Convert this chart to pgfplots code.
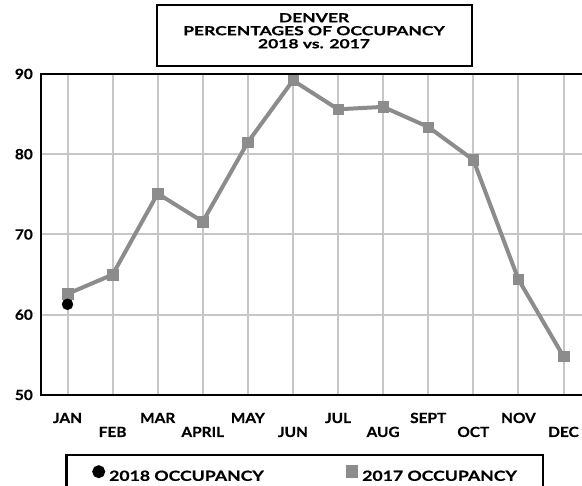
\documentclass[border=0pt]{standalone}
\usepackage{fontspec}
\setmainfont{Lato}[BoldFeatures={FakeStretch=1.10,FakeBold=0.6}]
\newfontfamily\legfont{Lato}[BoldFeatures={FakeStretch=1.26,FakeBold=0.6}]
\newfontfamily\titfont{Lato}[BoldFeatures={FakeStretch=1.40,FakeBold=0.6}]
\usepackage{pgfplots}
\pgfplotsset{compat=1.18}
\definecolor{linegray}{HTML}{8C8C8C}
\definecolor{gridgray}{HTML}{C6C6C6}
\begin{document}
\begin{tikzpicture}[x=1pt,y=1pt]
\useasboundingbox (0,0) rectangle (582,486);
\begin{axis}[
  at={(41pt,91pt)}, anchor=south west, scale only axis,
  width=541pt, height=321pt,
  xmin=-0.588, xmax=11.41, ymin=50, ymax=90,
  /pgf/number format/assume math mode=true,
  ytick={50,60,70,80,90},
  xtick={0,2,4,6,8,10}, xticklabels={JAN,MAR,MAY,JUL,SEPT,NOV},
  extra x ticks={1,3,5,7,9,11},
  extra x tick labels={FEB,APRIL,JUN,AUG,OCT,DEC},
  extra x tick style={grid=major, major tick length=0pt, tick style={draw=none},
     xticklabel style={yshift=-14pt}},
  major tick length=0pt, tick style={draw=none},
  grid=major, major grid style={draw=gridgray, line width=2pt},
  axis line style={draw=none},
  tick label style={font=\bfseries\fontsize{14}{15}\selectfont},
  xticklabel style={inner sep=0pt, anchor=base, yshift=-28pt},
  yticklabel style={inner sep=0pt, anchor=base east, xshift=-8pt, yshift=-5pt},
  legend style={at={(0.0444,-0.1838)}, anchor=north west, draw=black, line width=2.5pt,
    inner xsep=26pt, inner ysep=10pt,
    font=\legfont\bfseries\fontsize{14}{15}\selectfont,
    nodes={inner sep=0pt},
    /tikz/every odd column/.append style={column sep=4pt},
    /tikz/every even column/.append style={column sep=82pt}},
  legend columns=2,
  after end axis/.code={
    \draw[black, line width=2.5pt, line cap=rect] (rel axis cs:0,1) -- (rel axis cs:0,0) -- (rel axis cs:1,0);
    \draw[black, line width=2.5pt] (rel axis cs:0,1) -- (rel axis cs:1,1);
  },
]
\addlegendimage{legend image code/.code={\fill[black] (5pt,4.8pt) circle (5.2pt);}}
\addlegendentry{2018 OCCUPANCY}
\addlegendimage{legend image code/.code={\fill[linegray] (0pt,-0.2pt) rectangle (10pt,9.8pt);}}
\addlegendentry{2017 OCCUPANCY}
\addplot[forget plot, linegray, line width=4pt, mark=square*, mark size=5.2pt,
  mark options={solid, line width=0.4pt, fill=linegray, draw=linegray}]
  coordinates {(0,62.6) (1,65.0) (2,75.1) (3,71.6) (4,81.5) (5,89.2) (6,85.6) (7,85.9) (8,83.4) (9,79.3) (10,64.4) (11,54.8)};
\addplot[forget plot, only marks, mark=*, mark size=5.5pt, mark options={fill=black, draw=black}]
  coordinates {(0,61.3)};
\end{axis}
\draw[line width=2.3pt] (157,481) rectangle (472,420);
\node[align=center, anchor=north, font=\titfont\bfseries\fontsize{12.5}{13}\selectfont, inner sep=0pt]
  at (314,473) {DENVER\\PERCENTAGES OF OCCUPANCY\\2018 vs. 2017};
\end{tikzpicture}
\end{document}
